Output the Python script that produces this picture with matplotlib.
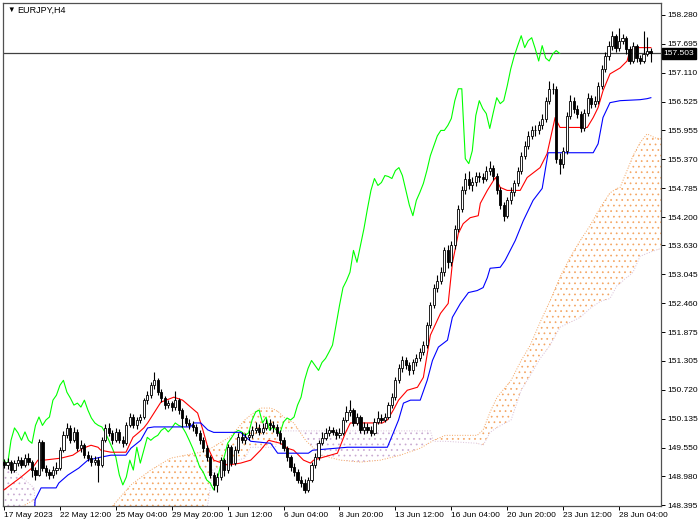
import numpy as np
import matplotlib
matplotlib.use('Agg')
import matplotlib.pyplot as plt
from matplotlib.transforms import blended_transform_factory

plt.rcParams['font.family'] = ['Liberation Sans', 'DejaVu Sans']
plt.rcParams['hatch.linewidth'] = 0.5

# EURJPY H4 candles (bar 0 = 17 May 2023 20:00)
opens = [
    149.26, 149.20, 149.26, 149.10, 149.24, 149.30, 149.20, 149.34, 149.26, 149.10,
    149.00, 149.66, 149.14, 149.06, 149.00, 149.10, 149.14, 149.50, 149.80, 149.95,
    149.70, 149.87, 149.54, 149.60, 149.40, 149.34, 149.26, 149.30, 149.20, 149.70,
    149.95, 149.85, 149.70, 149.87, 149.70, 149.64, 150.00, 150.17, 150.00, 150.11,
    150.17, 150.51, 150.61, 150.81, 150.91, 150.67, 150.55, 150.41, 150.45, 150.37,
    150.51, 150.31, 150.15, 150.05, 150.00, 149.97, 149.85, 149.70, 149.54, 149.36,
    149.00, 148.80, 148.96, 149.30, 149.10, 149.56, 149.24, 149.50, 149.76, 149.70,
    149.76, 149.80, 149.90, 149.95, 149.87, 149.95, 150.05, 150.00, 149.97, 149.85,
    149.70, 149.54, 149.36, 149.16, 149.06, 148.90, 148.84, 148.70, 148.90, 149.20,
    149.36, 149.64, 149.74, 149.85, 149.90, 149.87, 149.80, 149.85, 150.11, 150.27,
    150.31, 150.05, 150.17, 149.90, 149.97, 149.90, 149.85, 150.07, 150.15, 150.11,
    150.17, 150.41, 150.57, 150.91, 151.15, 151.31, 151.21, 151.11, 151.27, 151.35,
    151.48, 151.62, 152.02, 152.42, 152.78, 152.92, 153.09, 153.53, 153.29, 153.63,
    153.97, 154.37, 154.74, 154.98, 154.84, 154.90, 155.04, 155.02, 154.98, 155.14,
    155.20, 155.04, 154.74, 154.44, 154.23, 154.54, 154.70, 154.88, 155.14, 155.44,
    155.64, 155.84, 155.95, 155.95, 156.05, 156.19, 156.55, 156.79, 156.79, 155.38,
    155.28, 155.54, 156.25, 156.55, 156.39, 156.29, 155.99, 156.31, 156.61, 156.49,
    156.55, 156.85, 157.19, 157.45, 157.66, 157.86, 157.62, 157.76, 157.82, 157.60,
    157.35, 157.66, 157.41, 157.35, 157.49, 157.56]
highs = [
    149.32, 149.34, 149.30, 149.30, 149.38, 149.36, 149.42, 149.44, 149.30, 149.16,
    149.72, 149.70, 149.20, 149.12, 149.18, 149.26, 149.56, 149.88, 150.04, 150.00,
    149.96, 149.92, 149.70, 149.64, 149.48, 149.40, 149.38, 149.36, 149.76, 150.02,
    150.04, 149.90, 149.94, 149.92, 149.78, 150.06, 150.26, 150.24, 150.18, 150.24,
    150.56, 150.70, 150.88, 151.07, 150.96, 150.74, 150.60, 150.52, 150.50, 150.70,
    150.56, 150.36, 150.22, 150.12, 150.08, 150.02, 149.90, 149.76, 149.60, 149.40,
    149.06, 149.04, 149.36, 149.34, 149.62, 149.60, 149.58, 149.84, 149.86, 149.84,
    149.90, 149.98, 150.06, 150.02, 150.04, 150.12, 150.12, 150.08, 150.02, 149.90,
    149.76, 149.58, 149.40, 149.24, 149.12, 148.98, 148.92, 148.96, 149.26, 149.44,
    149.70, 149.86, 149.94, 149.98, 149.96, 149.92, 149.94, 150.18, 150.40, 150.52,
    150.36, 150.26, 150.22, 150.06, 150.04, 149.98, 150.14, 150.30, 150.24, 150.26,
    150.48, 150.66, 150.98, 151.24, 151.40, 151.38, 151.28, 151.34, 151.44, 151.56,
    151.70, 152.08, 152.48, 152.86, 153.04, 153.20, 153.60, 153.64, 153.72, 154.04,
    154.44, 154.82, 155.10, 155.14, 155.02, 155.12, 155.12, 155.10, 155.24, 155.34,
    155.26, 155.10, 154.80, 154.50, 154.60, 154.80, 154.96, 155.22, 155.52, 155.74,
    155.94, 156.04, 156.06, 156.14, 156.28, 156.62, 156.95, 156.90, 156.84, 155.50,
    155.62, 156.32, 156.66, 156.62, 156.46, 156.34, 156.38, 156.70, 156.66, 156.64,
    156.92, 157.26, 157.54, 157.76, 157.96, 157.90, 158.02, 157.90, 157.86, 157.66,
    157.74, 157.70, 157.48, 157.96, 157.84, 157.62]
lows = [
    149.14, 149.12, 149.04, 149.06, 149.18, 149.14, 149.16, 149.20, 148.96, 148.90,
    148.98, 149.08, 148.98, 148.92, 148.94, 149.02, 149.10, 149.46, 149.74, 149.64,
    149.66, 149.48, 149.46, 149.34, 149.28, 149.18, 149.20, 148.86, 149.16, 149.66,
    149.78, 149.62, 149.66, 149.64, 149.56, 149.60, 149.96, 149.94, 149.92, 150.04,
    150.12, 150.44, 150.56, 150.74, 150.62, 150.48, 150.34, 150.36, 150.30, 150.32,
    150.24, 149.96, 149.98, 149.92, 149.88, 149.78, 149.62, 149.46, 149.28, 148.94,
    148.70, 148.66, 148.90, 148.98, 149.04, 149.18, 149.20, 149.44, 149.64, 149.62,
    149.70, 149.74, 149.84, 149.80, 149.82, 149.90, 149.90, 149.86, 149.78, 149.62,
    149.48, 149.28, 149.08, 148.98, 148.84, 148.76, 148.64, 148.66, 148.86, 149.14,
    149.30, 149.60, 149.70, 149.78, 149.80, 149.72, 149.74, 149.80, 150.06, 150.20,
    149.98, 150.00, 149.84, 149.82, 149.84, 149.78, 149.80, 150.02, 150.04, 150.06,
    150.12, 150.36, 150.52, 150.86, 151.08, 151.14, 151.02, 151.04, 151.20, 151.30,
    151.42, 151.56, 151.96, 152.36, 152.70, 152.86, 153.02, 153.18, 153.22, 153.56,
    153.90, 154.30, 154.66, 154.76, 154.72, 154.82, 154.90, 154.88, 154.92, 155.06,
    154.96, 154.66, 154.36, 154.12, 154.18, 154.46, 154.62, 154.82, 155.08, 155.38,
    155.58, 155.78, 155.84, 155.88, 155.98, 156.12, 156.48, 156.68, 155.30, 155.08,
    155.20, 155.48, 156.18, 156.30, 156.20, 155.92, 155.94, 156.24, 156.40, 156.42,
    156.48, 156.78, 157.12, 157.38, 157.58, 157.54, 157.56, 157.70, 157.50, 157.28,
    157.30, 157.34, 157.28, 157.30, 157.46, 157.34]
closes = [
    149.20, 149.26, 149.10, 149.24, 149.30, 149.20, 149.34, 149.26, 149.10, 149.00,
    149.66, 149.14, 149.06, 149.00, 149.10, 149.14, 149.50, 149.80, 149.95, 149.70,
    149.87, 149.54, 149.60, 149.40, 149.34, 149.26, 149.30, 149.20, 149.70, 149.95,
    149.85, 149.70, 149.87, 149.70, 149.64, 150.00, 150.17, 150.00, 150.11, 150.17,
    150.51, 150.61, 150.81, 150.91, 150.67, 150.55, 150.41, 150.45, 150.37, 150.51,
    150.31, 150.15, 150.05, 150.00, 149.97, 149.85, 149.70, 149.54, 149.36, 149.00,
    148.80, 148.96, 149.30, 149.10, 149.56, 149.24, 149.50, 149.76, 149.70, 149.76,
    149.80, 149.90, 149.95, 149.87, 149.95, 150.05, 150.00, 149.97, 149.85, 149.70,
    149.54, 149.36, 149.16, 149.06, 148.90, 148.84, 148.70, 148.90, 149.20, 149.36,
    149.64, 149.74, 149.85, 149.90, 149.87, 149.80, 149.85, 150.11, 150.27, 150.31,
    150.05, 150.17, 149.90, 149.97, 149.90, 149.85, 150.07, 150.15, 150.11, 150.17,
    150.41, 150.57, 150.91, 151.15, 151.31, 151.21, 151.11, 151.27, 151.35, 151.48,
    151.62, 152.02, 152.42, 152.78, 152.92, 153.09, 153.53, 153.29, 153.63, 153.97,
    154.37, 154.74, 154.98, 154.84, 154.90, 155.04, 155.02, 154.98, 155.14, 155.20,
    155.04, 154.74, 154.44, 154.23, 154.54, 154.70, 154.88, 155.14, 155.44, 155.64,
    155.84, 155.95, 155.95, 156.05, 156.19, 156.55, 156.79, 156.79, 155.38, 155.28,
    155.54, 156.25, 156.55, 156.39, 156.29, 155.99, 156.31, 156.61, 156.49, 156.55,
    156.85, 157.19, 157.45, 157.66, 157.86, 157.62, 157.76, 157.82, 157.60, 157.35,
    157.66, 157.41, 157.35, 157.49, 157.56, 157.503]

# Ichimoku lines (bar position, price)
tenkan_x = [0, 4.9, 8.3, 9.7, 11.4, 16.3, 19.7, 22.6, 24.9, 26.9, 27.7, 30.6, 34.9, 36.9, 38.6,
            40, 41.1, 44.9, 48.6, 51.1, 53.4, 55.4, 56.9, 58.3, 60, 64, 67.7, 70.6, 73.4, 75.7,
            79.1, 81.1, 82.9, 85.7, 87.7, 88.6, 91.4, 95.4, 97.7, 99.1, 102, 108.3, 109.7, 111.4,
            112.9, 115.4, 118.3, 120, 122, 124.9, 127.1, 128.3, 130, 131.4, 133.4, 135.7, 136.3,
            138.3, 140.6, 142, 144, 147.7, 149.7, 153.4, 155.4, 157.7, 159.1, 166.9, 168.6, 170,
            171.4, 173.4, 176.3, 178.3, 179.1, 180.6, 185.1]
tenkan_y = [148.70, 148.96, 149.16, 149.30, 149.30, 149.34, 149.40, 149.54, 149.60, 149.56,
            149.50, 149.46, 149.46, 149.76, 149.86, 149.95, 150.05, 150.47, 150.57, 150.51,
            150.37, 150.25, 149.91, 149.56, 149.30, 149.20, 149.24, 149.30, 149.50, 149.70,
            149.64, 149.54, 149.50, 149.30, 149.24, 149.30, 149.36, 149.44, 149.85, 150.05,
            150.05, 150.05, 150.11, 150.31, 150.51, 150.71, 150.77, 150.97, 151.82, 152.26,
            152.46, 153.27, 153.87, 154.07, 154.19, 154.23, 154.48, 154.74, 155.00, 154.80,
            154.74, 154.74, 155.00, 155.20, 155.48, 156.21, 156.01, 156.01, 156.21, 156.41,
            156.75, 157.09, 157.21, 157.35, 157.56, 157.62, 157.62]

kijun_x = [0, 8.3, 8.9, 10.6, 14.9, 15.7, 18.3, 21.4, 24, 27.7, 30.6, 34.9, 36.3, 39.1, 41.1,
           42.9, 53.4, 54.3, 56.3, 58.3, 60, 67.7, 70.6, 76.3, 78.3, 87.1, 88.3, 98.3, 109.7,
           111.4, 112.9, 114.3, 116.3, 119.1, 121.1, 122.6, 124.3, 126.9, 128.3, 130.6, 132.9,
           135.4, 137.1, 138.3, 139.1, 142, 143.4, 146.3, 148.6, 151.4, 154, 155.7, 168.6, 170,
           171.4, 173.4, 176.3, 182, 184, 185.1]
kijun_y = [147.69, 147.69, 148.50, 148.74, 148.74, 148.84, 149.00, 149.14, 149.30, 149.36,
           149.40, 149.40, 149.54, 149.70, 149.95, 149.97, 149.97, 150.05, 150.05, 149.91,
           149.86, 149.86, 149.68, 149.64, 149.44, 149.44, 149.50, 149.56, 149.56, 149.85,
           150.11, 150.45, 150.51, 150.51, 150.91, 151.31, 151.58, 151.72, 152.18, 152.46,
           152.68, 152.72, 152.78, 152.98, 153.17, 153.19, 153.33, 153.73, 154.13, 154.54,
           154.78, 155.50, 155.50, 155.68, 156.21, 156.51, 156.55, 156.57, 156.59, 156.61]

cloud_x = [0, 3.4, 8.6, 9.4, 27.7, 31.4, 36.3, 42, 47.7, 56.3, 58.3, 59.7, 64.9, 68.9, 70.6,
           73.4, 76.3, 77.7, 78.6, 80, 82.9, 86.3, 90.6, 96.3, 102, 107.7, 113.4, 119.1, 122,
           122.9, 126.3, 135.4, 137.1, 139.1, 141.1, 145.1, 148, 150.6, 153.4, 156.3, 159.1,
           162, 164.9, 167.7, 170.6, 173.4, 175.4, 176.3, 177.7, 179.1, 180, 182, 184, 186.3, 188]
span_a = [148.19, 148.29, 148.50, 148.09, 148.09, 148.40, 148.80, 149.10, 149.34, 149.46,
          149.50, 149.56, 149.78, 150.11, 150.21, 150.35, 150.35, 150.31, 150.27, 150.17,
          150.05, 149.70, 149.40, 149.30, 149.26, 149.30, 149.40, 149.54, 149.66, 149.70,
          149.80, 149.80, 149.91, 150.27, 150.57, 150.91, 151.31, 151.62, 152.08, 152.52,
          152.99, 153.39, 153.73, 154.03, 154.39, 154.69, 154.78, 154.80, 155.04, 155.28,
          155.44, 155.70, 155.88, 155.80, 155.78]
span_b = [149.14, 149.06, 148.74, 147.89, 147.89, 147.89, 147.89, 147.89, 147.89, 147.89,
          148.40, 149.10, 149.26, 149.34, 149.56, 149.56, 149.56, 149.56, 149.89, 149.89,
          149.89, 149.89, 149.89, 149.89, 149.89, 149.89, 149.89, 149.89, 149.89, 149.68,
          149.68, 149.64, 149.60, 149.86, 149.96, 150.11, 150.71, 151.01, 151.35, 151.62,
          151.98, 152.08, 152.18, 152.36, 152.50, 152.56, 152.82, 152.86, 152.96, 153.03,
          153.09, 153.41, 153.47, 153.53, 153.57]

tick_bars = [0, 16, 32, 48, 64, 80, 96, 112, 128, 144, 160, 176]
tick_labels = ['17 May 2023', '22 May 12:00', '25 May 04:00', '29 May 20:00', '1 Jun 12:00',
               '6 Jun 04:00', '8 Jun 20:00', '13 Jun 12:00', '16 Jun 04:00', '20 Jun 20:00',
               '23 Jun 12:00', '28 Jun 04:00']
price_ticks = [158.280, 157.695, 157.110, 156.525, 155.955, 155.370, 154.785, 154.200, 153.630,
               153.045, 152.460, 151.875, 151.305, 150.720, 150.135, 149.550, 148.980, 148.395]
last_price = 157.503

o = np.array(opens)
h = np.array(highs)
l = np.array(lows)
c = np.array(closes)
bars = np.arange(len(c))
cx = np.array(cloud_x)
sa = np.array(span_a)
sb = np.array(span_b)

fig = plt.figure(figsize=(7, 5.25), dpi=100)
ax = fig.add_axes([3 / 700, 19 / 525, 658 / 700, 503 / 525])

# kumo (cloud), dotted like the terminal draws it
ax.fill_between(cx, sa, sb, where=sa >= sb, interpolate=True, facecolor='none',
                edgecolor='#F4A460', hatch='...', linewidth=0, zorder=1)
ax.fill_between(cx, sa, sb, where=sa < sb, interpolate=True, facecolor='none',
                edgecolor='#C8A8D0', hatch='...', linewidth=0, zorder=1)
ax.plot(cx, sa, color='#F4A460', lw=0.7, ls=':', zorder=1)
ax.plot(cx, sb, color='#D8BFD8', lw=0.7, ls=':', zorder=1)

# current price line
ax.axhline(last_price, color='#404040', lw=0.9, zorder=2)

# chikou span = close shifted 26 bars back
ax.plot(bars[:-26], c[26:], color='#00FF00', lw=0.8, zorder=3)
ax.plot(tenkan_x, tenkan_y, color='#FF0000', lw=0.8, zorder=3)
ax.plot(kijun_x, kijun_y, color='#0000FF', lw=0.8, zorder=3)

# candles
ax.vlines(bars, l, h, color='black', lw=0.8, zorder=4)
up = c >= o
ax.bar(bars[up], (c - o)[up], bottom=o[up], width=0.62, facecolor='white',
       edgecolor='black', linewidth=0.6, zorder=5)
ax.bar(bars[~up], (o - c)[~up], bottom=c[~up], width=0.62, facecolor='black',
       edgecolor='black', linewidth=0.6, zorder=5)

ax.set_xlim(-0.29, 188.0)
ax.set_ylim(148.375, 158.52)

ax.set_xticks(tick_bars)
ax.set_xticklabels(tick_labels, ha='left')
ax.yaxis.tick_right()
ax.set_yticks(price_ticks)
ax.set_yticklabels([f'{p:.3f}' for p in price_ticks])
ax.tick_params(axis='both', labelsize=6, length=3, width=0.7, direction='out',
               colors='black', pad=1.5)
ax.tick_params(axis='x', pad=1)
for s in ax.spines.values():
    s.set_color('#505050')
    s.set_linewidth(0.9)

trans = blended_transform_factory(ax.transAxes, ax.transData)
ax.text(1.004, last_price, f'{last_price:.3f}', transform=trans, color='white',
        fontsize=6, va='center', ha='left', zorder=10, clip_on=False,
        bbox=dict(facecolor='black', edgecolor='black', pad=1.5))

fig.text(7 / 700, 1 - 10 / 525, '\u25bc', fontsize=5.5, va='center', ha='left')
fig.text(17 / 700, 1 - 10 / 525, 'EURJPY,H4', fontsize=6.5, va='center', ha='left')

fig.savefig('out.png', dpi=100)
